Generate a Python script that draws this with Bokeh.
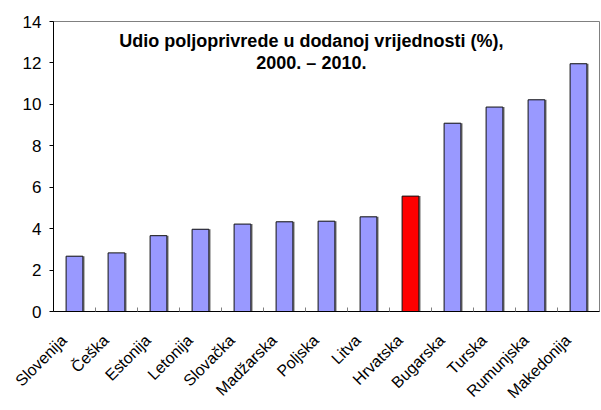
from bokeh.plotting import figure
from bokeh.models import ColumnDataSource, FixedTicker, Range1d, Label
from bokeh.transform import dodge
from bokeh.embed import file_html
from bokeh.resources import INLINE
import math

countries = ["Slovenija", "Češka", "Estonija", "Letonija", "Slovačka", "Madžarska",
             "Poljska", "Litva", "Hrvatska", "Bugarska", "Turska", "Rumunjska", "Makedonija"]
values = [2.67, 2.83, 3.66, 3.97, 4.22, 4.33, 4.36, 4.57, 5.57, 9.09, 9.87, 10.22, 11.96]
highlight = "Hrvatska"
y_ticks = [0, 2, 4, 6, 8, 10, 12, 14]
title_lines = ["Udio poljoprivrede u dodanoj vrijednosti (%),", "2000. – 2010."]

xs = [i + 0.5 for i in range(len(countries))]
label_pos = [x - 0.25 for x in xs]
colors = ["#FF0000" if c == highlight else "#9999FF" for c in countries]
src = ColumnDataSource(dict(x=xs, top=values, color=colors, name=countries))

p = figure(width=601, height=410, output_backend="svg", toolbar_location=None,
           x_range=Range1d(0, len(countries)), y_range=Range1d(0, 14),
           min_border_left=53, min_border_right=2, min_border_top=21, min_border_bottom=99)
p.background_fill_color = "white"
p.border_fill_color = "white"
p.outline_line_color = "#808080"
p.outline_line_width = 1
p.grid.visible = False

# shadow
p.vbar(x=dodge("x", 0.04), top="top", width=0.4, bottom=0, source=src,
       fill_color="#808080", line_color=None)
p.vbar(x="x", top="top", width=0.4, bottom=0, source=src,
       fill_color="color", line_color="#111111", line_width=1)

# x axis
xa = p.xaxis[0]
xa.ticker = FixedTicker(ticks=label_pos, minor_ticks=list(range(1, len(countries))))
xa.major_label_overrides = {x: c for x, c in zip(label_pos, countries)}
xa.major_tick_in = 0
xa.major_tick_out = 0
xa.minor_tick_in = 4
xa.minor_tick_out = 0
xa.minor_tick_line_color = "#808080"
xa.axis_line_color = "black"
xa.major_label_orientation = math.pi / 4
xa.major_label_text_font = "Liberation Sans"
xa.major_label_text_font_size = "16px"
xa.major_label_text_color = "black"
xa.major_label_standoff = 26

ya = p.yaxis[0]
ya.ticker = FixedTicker(ticks=y_ticks, minor_ticks=[])
ya.major_tick_in = 0
ya.major_tick_out = 4
ya.minor_tick_in = 0
ya.minor_tick_out = 0
ya.axis_line_color = "black"
ya.major_label_text_font = "Liberation Sans"
ya.major_label_text_font_size = "17px"
ya.major_label_text_color = "black"
ya.major_label_standoff = 8

for yv, t in zip([13.05, 12.02], title_lines):
    p.add_layout(Label(x=6.14, y=yv, text=t, text_align="center", text_baseline="middle",
                       text_font="Liberation Sans", text_font_style="bold",
                       text_font_size="18px", text_color="black"))

open("out.html", "w").write(file_html(p, INLINE))
